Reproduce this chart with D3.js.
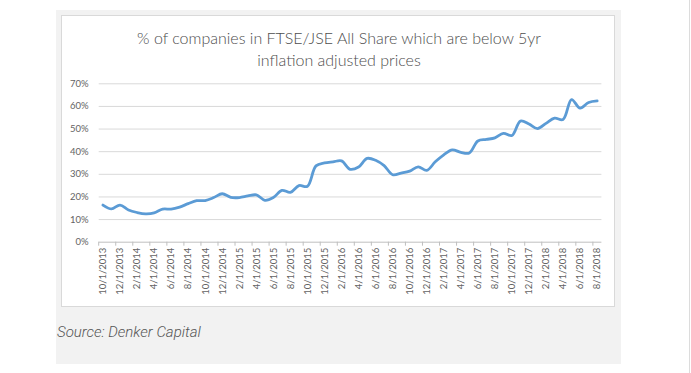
<!DOCTYPE html>
<html>
<head>
<meta charset="utf-8">
<script src="https://cdn.jsdelivr.net/npm/d3@7"></script>
<style>
  body { margin: 0; background: #fff; }
  svg { display: block; }
  .axis text { font-family: Lato, "Open Sans", sans-serif; fill: #636363; }
</style>
</head>
<body>
<div class="chartWrap"></div>
<script>
var width = 691,
  height = 373;

// monthly categories, 10/2013 .. 8/2018
var dates = [
  '10/1/2013', '11/1/2013', '12/1/2013',
  '1/1/2014', '2/1/2014', '3/1/2014', '4/1/2014', '5/1/2014', '6/1/2014',
  '7/1/2014', '8/1/2014', '9/1/2014', '10/1/2014', '11/1/2014', '12/1/2014',
  '1/1/2015', '2/1/2015', '3/1/2015', '4/1/2015', '5/1/2015', '6/1/2015',
  '7/1/2015', '8/1/2015', '9/1/2015', '10/1/2015', '11/1/2015', '12/1/2015',
  '1/1/2016', '2/1/2016', '3/1/2016', '4/1/2016', '5/1/2016', '6/1/2016',
  '7/1/2016', '8/1/2016', '9/1/2016', '10/1/2016', '11/1/2016', '12/1/2016',
  '1/1/2017', '2/1/2017', '3/1/2017', '4/1/2017', '5/1/2017', '6/1/2017',
  '7/1/2017', '8/1/2017', '9/1/2017', '10/1/2017', '11/1/2017', '12/1/2017',
  '1/1/2018', '2/1/2018', '3/1/2018', '4/1/2018', '5/1/2018', '6/1/2018',
  '7/1/2018', '8/1/2018'
];

// % of companies below 5yr inflation adjusted prices
var pctBelow = [
  16.2, 14.5, 16.2, 14.0, 12.9, 12.3, 12.7, 14.4, 14.4, 15.3,
  16.8, 18.1, 18.2, 19.5, 21.2, 19.6, 19.5, 20.2, 20.7, 18.3,
  19.5, 22.7, 21.8, 24.8, 24.5, 33.5, 34.8, 35.3, 35.7, 32.0,
  33.0, 36.8, 36.0, 33.6, 29.6, 30.3, 31.2, 33.1, 31.5, 35.3,
  38.4, 40.6, 39.5, 39.2, 44.5, 45.2, 45.9, 47.9, 46.9, 53.3,
  52.0, 50.0, 52.3, 54.6, 54.0, 62.8, 59.0, 61.5, 62.2
];

var yTicks = [0, 10, 20, 30, 40, 50, 60, 70];

var titleLines = ['% of  companies in FTSE/JSE All Share which are below 5yr', 'inflation adjusted prices'];
var sourceText = 'Source: Denker Capital';

var svg = d3.select('.chartWrap')
  .append('svg')
  .attr('width', width)
  .attr('height', height);

// page border on the right
svg.append('line')
  .attr('x1', 689.5).attr('x2', 689.5)
  .attr('y1', 0).attr('y2', height)
  .style('stroke', '#dcdcdc');

// grey card + white chart panel
svg.append('rect')
  .attr('x', 56).attr('y', 10)
  .attr('width', 565).attr('height', 354)
  .style('fill', '#f2f2f2');

svg.append('rect')
  .attr('x', 61.5).attr('y', 15.5)
  .attr('width', 553).attr('height', 291)
  .style('fill', '#fff')
  .style('stroke', '#d9d9d9');

// title
svg.selectAll('.titleText')
  .data(titleLines)
  .enter()
    .append('text')
    .attr('class', 'titleText')
    .attr('x', 339)
    .attr('y', function(d, i){ return 44 + i * 22; })
    .attr('text-anchor', 'middle')
    .style('font-family', 'Lato, "Open Sans", sans-serif')
    .style('font-weight', 300)
    .style('font-size', '16px')
    .style('fill', '#4d4d4d')
    .text(function(d){ return d; });

var x = d3.scaleBand()
  .domain(dates)
  .range([98.7, 601.4]);

var y = d3.scaleLinear()
  .domain([0, 70])
  .range([241.7, 83.3]);

// gridlines + y labels
var yAxis = svg.append('g')
  .attr('class', 'axis')
  .attr('transform', 'translate(98.7,0)')
  .call(d3.axisLeft(y)
    .tickValues(yTicks)
    .tickSize(-(601.4 - 98.7))
    .tickPadding(10)
    .tickFormat(function(d){ return d + '%'; }));

yAxis.select('.domain').remove();
yAxis.selectAll('.tick line')
  .style('stroke', function(d){ return d === 0 ? '#bfbfbf' : '#d9d9d9'; });
yAxis.selectAll('.tick text')
  .style('font-size', '9.5px');

// x axis, labels every other month
var xAxis = svg.append('g')
  .attr('class', 'axis')
  .attr('transform', 'translate(0,' + y(0) + ')')
  .call(d3.axisBottom(x)
    .tickValues(dates.filter(function(d, i){ return i % 2 === 0; }))
    .tickSize(0));

xAxis.select('.domain').remove();
xAxis.selectAll('.tick text')
  .attr('transform', 'rotate(-90)')
  .attr('text-anchor', 'end')
  .attr('x', -6)
  .attr('y', 0)
  .attr('dy', '0.35em')
  .style('font-size', '9.5px');

// tick marks on category boundaries
var boundaries = dates.filter(function(d, i){ return i % 2 === 0; });
svg.selectAll('.xTickMark')
  .data(boundaries)
  .enter()
    .append('line')
    .attr('class', 'xTickMark')
    .attr('x1', function(d){ return x(d); })
    .attr('x2', function(d){ return x(d); })
    .attr('y1', y(0))
    .attr('y2', y(0) + 4)
    .style('stroke', '#bfbfbf');

// the line
var line = d3.line()
  .x(function(d, i){ return x(dates[i]) + x.bandwidth() / 2; })
  .y(function(d){ return y(d); })
  .curve(d3.curveCatmullRom.alpha(0.5));

svg.append('path')
  .datum(pctBelow)
  .attr('d', line)
  .style('fill', 'none')
  .style('stroke', '#5b9bd5')
  .style('stroke-width', 2.8)
  .style('stroke-linejoin', 'round')
  .style('stroke-linecap', 'round');

// source note
svg.append('text')
  .attr('x', 57)
  .attr('y', 337)
  .style('font-family', 'Roboto, sans-serif')
  .style('font-style', 'italic')
  .style('font-weight', 300)
  .style('font-size', '15px')
  .style('fill', '#555')
  .text(sourceText);
</script>
</body>
</html>
